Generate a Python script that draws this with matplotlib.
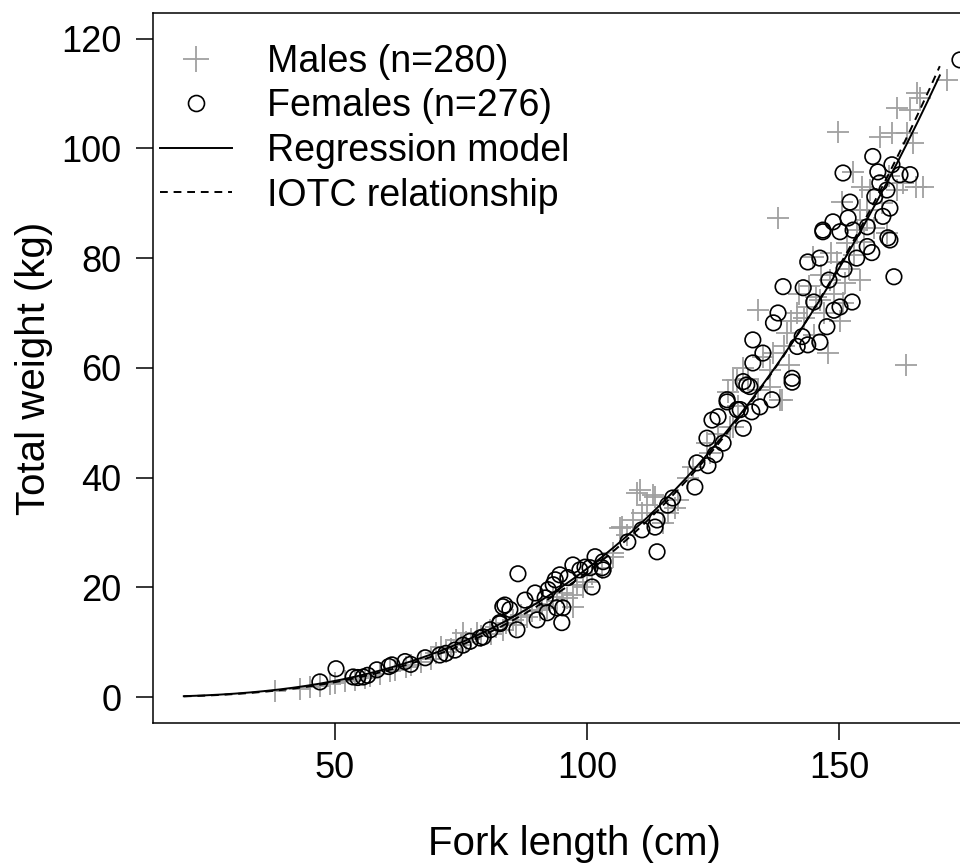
import numpy as np
import matplotlib
matplotlib.use("Agg")
import matplotlib.pyplot as plt
from matplotlib.lines import Line2D

plt.rcParams['font.family'] = ['Liberation Sans', 'DejaVu Sans']

# ---- data ----
male_fl = [38, 43, 45, 47, 49, 50, 52, 54, 56, 57, 59, 61, 62, 64, 65, 67, 69, 70, 71, 72, 73, 74, 75,
           75.4, 76, 77, 78.2, 79, 80.8, 81, 82, 83.3, 84, 85.3, 86, 87, 88.1, 89, 90.7, 91, 92, 93.3, 94,
           95, 96, 97.2, 97.2, 98, 99.2, 100, 101, 103, 105.2, 105.2, 106.5, 106.9, 108, 109.1, 109.9,
           110.5, 111, 112, 113, 113.5, 115.1, 117.5, 116, 118, 120, 121, 123.8, 124.5, 126, 128, 128.4,
           129, 129, 129.8, 130, 131, 132, 133.9, 134, 135, 136.3, 136.3, 137, 137.9, 138.3, 138.7, 139,
           139.7, 140, 140.5, 141.7, 142, 143, 143.7, 144, 144.8, 145, 145.5, 146.2, 146.5, 147, 147.8,
           148.2, 148.5, 149, 149.6, 149.8, 150.2, 150.6, 150.8, 151.2, 151.6, 152, 152.8, 153, 153.6,
           154.2, 154.2, 154.6, 155, 155.6, 155.6, 156.2, 157, 158.1, 158.5, 159.5, 160, 160.5, 161.5,
           161.5, 162.7, 163.3, 163.5, 164.1, 164.7, 165.3, 165.5, 166, 166.7, 171.4]
male_tw = [1.2, 1.5, 1.8, 2.0, 2.4, 2.6, 3.0, 3.2, 3.5, 3.9, 4.3, 4.8, 5.0, 5.6, 5.9, 6.5, 7.0, 8.0, 9.2,
           8.3, 8.8, 10.4, 9.6, 11.7, 10.0, 10.6, 11.7, 11.2, 12.3, 11.6, 12.8, 12.3, 13.5, 14.1, 13.2,
           15.0, 14.7, 15.8, 15.9, 17.0, 16.2, 18.3, 17.5, 19.0, 18.0, 18.6, 16.5, 20.5, 20.1, 21.0, 22.5,
           23.5, 25.6, 26.3, 30.8, 31.0, 29.5, 32.3, 37.2, 37.8, 33.5, 35.0, 36.8, 36.5, 31.8, 34.5, 33.5,
           36.0, 40.0, 42.0, 46.3, 44.5, 48.0, 55.6, 49.3, 49.3, 57.8, 57.8, 53.0, 60.0, 58.0, 70.6, 56.0,
           62.0, 56.6, 59.6, 62.7, 87.3, 54.2, 54.2, 64.0, 66.3, 60.5, 68.5, 70.0, 73.5, 69.0, 71.1, 75.0,
           80.2, 66.0, 73.0, 72.4, 77.0, 70.0, 62.7, 76.1, 81.0, 73.5, 79.2, 103.0, 68.5, 90.2, 71.8, 75.5,
           82.8, 78.0, 95.7, 80.5, 85.1, 76.1, 88.8, 93.0, 83.0, 88.8, 87.0, 92.4, 85.5, 102.1, 90.0, 84.6,
           95.0, 102.7, 107.4, 92.4, 93.7, 60.5, 102.7, 107.0, 100.9, 93.0, 110.0, 109.2, 93.0, 112.4]

female_fl = [47, 50.2, 53.6, 54.5, 55.6, 56.5, 58.3, 60.7, 61.3, 63.9, 65, 67.9, 70.8, 72, 73.8, 75.4,
             76.8, 78.8, 79.4, 80.8, 82.7, 82.7, 83.3, 83.7, 84.7, 86.1, 86.3, 87.7, 89.7, 90.1, 91.7,
             92.1, 92.3, 93.3, 93.7, 94, 94.6, 95, 95.2, 96.2, 97.2, 98.6, 99.6, 100.6, 101, 101.6, 103,
             103.2, 103.2, 108.1, 110.9, 113.5, 113.9, 113.9, 116, 117, 121.4, 121.8, 123.8, 124, 124.8,
             125.4, 126, 127, 127.8, 127.8, 129.8, 130.4, 131, 131, 131.7, 132.3, 132.7, 132.9, 132.9,
             134.3, 134.9, 136.7, 137, 137.9, 138.9, 140.7, 140.7, 141.7, 142.7, 142.9, 143.8, 143.8, 145,
             146.2, 146.2, 146.8, 146.8, 147.6, 148, 148.8, 149, 150.2, 150.2, 150.8, 151, 151.8, 152.2,
             152.6, 152.8, 153.5, 155.6, 155.6, 156.5, 156.7, 157.1, 157.7, 158.1, 158.7, 159.5, 159.7,
             160.1, 160.1, 160.5, 160.9, 162.1, 164.1, 174]
female_tw = [2.8, 5.2, 3.7, 3.6, 3.7, 4.0, 5.0, 5.6, 5.9, 6.5, 6.0, 7.2, 7.7, 8.0, 8.6, 9.5, 10.2, 10.8,
             11.0, 12.3, 13.4, 13.6, 16.5, 16.8, 16.0, 12.3, 22.5, 17.7, 19.0, 14.1, 18.1, 15.4, 19.6,
             20.5, 21.4, 16.3, 22.3, 13.6, 16.3, 21.8, 24.1, 23.2, 23.7, 23.6, 20.1, 25.6, 23.6, 24.7,
             23.2, 28.3, 30.5, 31.0, 32.3, 26.5, 35.0, 36.3, 38.3, 42.7, 47.2, 42.2, 50.5, 44.2, 51.1,
             46.3, 53.8, 54.2, 52.4, 52.4, 49.0, 57.5, 56.9, 56.6, 52.0, 65.1, 60.9, 52.9, 62.7, 54.2,
             68.2, 70.0, 74.8, 57.4, 58.1, 63.9, 65.7, 74.6, 64.2, 79.3, 72.0, 64.7, 80.0, 85.1, 84.8,
             67.5, 76.0, 86.6, 70.5, 71.1, 84.8, 95.5, 78.0, 87.3, 90.2, 72.0, 85.1, 80.0, 82.1, 85.7,
             81.0, 98.5, 91.2, 95.7, 93.7, 87.6, 92.4, 83.7, 89.1, 83.3, 97.0, 76.6, 95.2, 95.2, 116.1]

# length-weight models W = a * FL^b
reg_a, reg_b = 2.69e-5, 2.97
iotc_a, iotc_b = 1.81e-5, 3.05
fl_range = (20, 170)

legend_labels = ["Males (n=280)", "Females (n=276)", "Regression model", "IOTC relationship"]

# ---- figure ----
W, H = 960, 866
fig = plt.figure(figsize=(W / 100, H / 100), dpi=100)
ax = fig.add_axes([152.7 / W, (H - 723.3) / H, (996 - 152.7) / W, (723.3 - 12.7) / H])

grey = "#a0a0a0"
ax.scatter(male_fl, male_tw, marker="+", s=260, color=grey, linewidths=1.3, zorder=2)
ax.scatter(female_fl, female_tw, marker="o", s=125, facecolors="none", edgecolors="black",
           linewidths=1.2, zorder=3)

xx = np.linspace(fl_range[0], fl_range[1], 300)
ax.plot(xx, reg_a * xx ** reg_b, color="black", lw=1.4, zorder=4)
ax.plot(xx, iotc_a * xx ** iotc_b, color="black", lw=1.4, ls=(0, (4, 3)), zorder=4)

ax.set_xlim(13.83, 181.15)
ax.set_ylim(-4.74, 124.7)
ax.set_xticks([50, 100, 150])
ax.set_yticks([0, 20, 40, 60, 80, 100, 120])
ax.tick_params(axis="both", length=12.3, width=1.1, labelsize=26, direction="out")
ax.tick_params(axis="x", pad=8)
ax.tick_params(axis="y", pad=10)
for sp in ax.spines.values():
    sp.set_linewidth(1.1)

ax.set_xlabel("Fork length (cm)", fontsize=29, labelpad=28)
ax.set_ylabel("Total weight (kg)", fontsize=29, labelpad=6)

handles = [
    Line2D([], [], marker="+", ls="none", color=grey, markersize=19, markeredgewidth=1.3),
    Line2D([], [], marker="o", ls="none", markerfacecolor="none", markeredgecolor="black",
           markersize=11.5, markeredgewidth=1.2),
    Line2D([], [], color="black", lw=1.4),
    Line2D([], [], color="black", lw=1.4, ls=(0, (4, 3))),
]
ax.legend(handles, legend_labels, loc="upper left", bbox_to_anchor=(0.0, 0.967),
          frameon=False, fontsize=27, handlelength=1.92, handletextpad=0.93,
          labelspacing=0.23, borderpad=0.2, borderaxespad=0.0)

fig.savefig("out.png", dpi=100)
